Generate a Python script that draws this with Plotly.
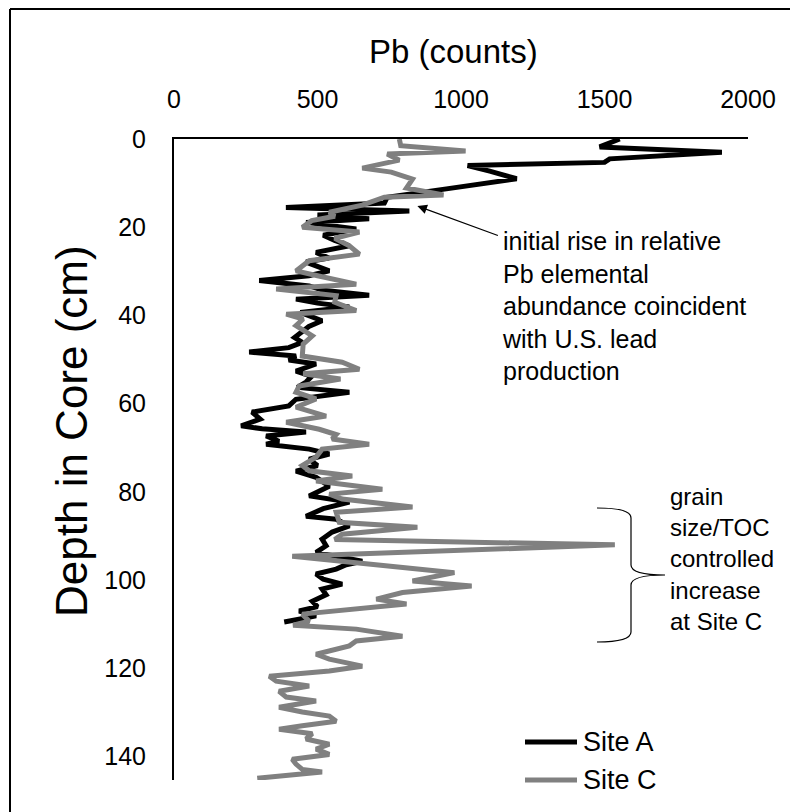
import plotly.graph_objects as go

# ---------------- data ----------------
site_a_depth = [0, 1.8, 3, 4.5, 5.3, 6, 7.3, 9, 11.3, 13.2, 14.5, 15.5, 16.3, 17.2, 18.1, 18.9,
                20.4, 21.8, 23, 24.2, 25.7, 27, 27.9, 29.9, 31, 32.1, 33.3, 34.3, 35.4, 36.3,
                37.2, 38.1, 39.3, 41.2, 42.5, 43.7, 45, 46.1, 47.3, 48.3, 49.2, 50.1, 51, 52.6,
                53.8, 55.1, 56.3, 57.4, 59, 60.5, 61.9, 63.5, 65, 65.7, 66.4, 67.3, 68.5, 69.2,
                70.3, 71.4, 72.6, 74, 75.3, 76.7, 78.7, 80.9, 82.3, 83.8, 85.5, 86.2, 87.7,
                89.1, 90.7, 92.2, 93.7, 95.7, 96.5, 97.5, 98.6, 99.8, 100.9, 102, 103.3, 104.8,
                106, 107, 108.1, 108.8, 109.5]
site_a_pb = [1553, 1483, 1909, 1518, 1500, 1023, 1100, 1194, 949, 743, 733, 390, 820, 500, 680, 460,
             635, 520, 560, 611, 495, 540, 460, 541, 470, 297, 471, 520, 680, 425,
             500, 611, 440, 516, 470, 447, 420, 447, 400, 262, 425, 400, 495, 425,
             480, 460, 430, 611, 425, 400, 272, 300, 234, 307, 460, 321, 366, 321,
             471, 541, 471, 500, 425, 495, 541, 471, 611, 520, 460, 565, 611,
             551, 516, 530, 495, 656, 600, 565, 495, 520, 586, 516, 530, 482,
             500, 436, 495, 440, 384]

site_c_depth = [0, 1.5, 2.7, 3.4, 4.8, 6.6, 7.5, 9.1, 11.1, 12.7, 13.2, 15, 16.6, 17.5, 18.5, 20,
                21.1, 22.5, 24.2, 26.1, 27.6, 29.9, 31, 32.9, 34, 35.5, 37, 38.9, 39.7, 40.8,
                42.3, 44.6, 46.5, 49.2, 50.6, 52.2, 53.2, 54.4, 56, 57.4, 58.9, 60.8, 62.8,
                64.2, 65.8, 67, 68, 69.2, 70.3, 72.1, 74, 75.2, 76.4, 77.5, 79.4, 80.5, 81.6,
                83.4, 84.6, 86.9, 88, 89.6, 90.8, 92, 94.6, 95.7, 98.3, 100.2, 101.3, 102.8,
                104.3, 105.4, 106.5, 107.7, 109.3, 110.2, 111.1, 112.7, 113.8, 114.9, 116.8,
                117.9, 119.5, 120.6, 121.8, 122.9, 124, 125.2, 126.5, 127.4, 128.8, 129.9,
                130.8, 132, 133, 133.8, 134.8, 136, 137.2, 138.3, 139.5, 140.6, 141.7, 142.9,
                143.5, 144.9]
site_c_pb = [785, 790, 1016, 743, 785, 656, 757, 831, 810, 939, 733, 656, 541, 560, 480, 447,
             646, 560, 611, 646, 471, 425, 500, 635, 356, 565, 560, 635, 391, 450,
             425, 482, 450, 447, 586, 646, 450, 580, 436, 425, 495, 425, 530,
             391, 506, 565, 551, 680, 516, 495, 447, 471, 621, 495, 726, 541, 586,
             831, 565, 576, 848, 586, 560, 1536, 412, 586, 977, 831, 1037, 796,
             705, 810, 635, 447, 471, 415, 635, 796, 635, 611, 495,
             541, 656, 541, 332, 356, 471, 366, 391, 495, 366, 447,
             541, 565, 447, 366, 482, 460, 541, 495, 541, 412, 425, 447,
             516, 290]

series_names = ["Site A", "Site C"]
series_colors = ["#000000", "#808080"]
x_ticks = [0, 500, 1000, 1500, 2000]
y_ticks = [0, 20, 40, 60, 80, 100, 120, 140]

# ---------------- layout helpers (page pixel -> paper) ----------------
OFF = 8                      # default page margin around the figure
W, H = 796, 804
L, T = 166, 131
R, B = W - 740, H - 772
PW, PH = W - L - R, H - T - B


def px(x):
    return (x - OFF - L) / PW


def py(y):
    return 1 - (y - OFF - T) / PH


FONT = "Liberation Sans, Arial, sans-serif"

fig = go.Figure()
for name, color, xs, ys in zip(series_names, series_colors,
                               [site_a_pb, site_c_pb], [site_a_depth, site_c_depth]):
    fig.add_trace(go.Scatter(x=xs, y=ys, mode="lines", name=name,
                             line=dict(color=color, width=5)))

fig.update_layout(
    width=W, height=H,
    margin=dict(l=L, r=R, t=T, b=B, autoexpand=False),
    paper_bgcolor="white", plot_bgcolor="white",
    font=dict(family=FONT, color="#000000"),
    showlegend=False,
    xaxis=dict(side="top", range=[0, 2000], tickvals=x_ticks, showgrid=False,
               zeroline=False, showline=True, linecolor="#000000", linewidth=2,
               ticks="", tickfont=dict(size=25, family=FONT), ticklabelstandoff=19,
               automargin=False),
    yaxis=dict(range=[145.3, 0], tickvals=y_ticks, showgrid=False, zeroline=False,
               showline=True, linecolor="#000000", linewidth=2, ticks="",
               tickfont=dict(size=25, family=FONT), ticklabelstandoff=21,
               automargin=False),
)

# axis titles
fig.add_annotation(text="Pb (counts)", xref="paper", yref="paper", x=px(453), y=py(52),
                   xanchor="center", yanchor="middle",
                   showarrow=False, font=dict(size=33, family=FONT))
fig.add_annotation(text="Depth in Core (cm)", xref="paper", yref="paper", x=px(71), y=py(431),
                   xanchor="center", yanchor="middle",
                   showarrow=False, textangle=-90, font=dict(size=44, family=FONT))

# legend (drawn at fixed pixel positions)
for i, (name, color) in enumerate(zip(series_names, series_colors)):
    ly = 742 + i * 38
    fig.add_shape(type="line", xref="paper", yref="paper", x0=px(525), x1=px(577),
                  y0=py(ly), y1=py(ly), line=dict(color=color, width=5))
    fig.add_annotation(text=name, xref="paper", yref="paper", x=px(581), y=py(ly),
                       xanchor="left", yanchor="middle", showarrow=False,
                       font=dict(size=27, family=FONT))

# arrow annotation
fig.add_annotation(x=848, y=15.2, xref="x", yref="y", ax=82, ay=30, text="",
                   showarrow=True, arrowhead=2, arrowsize=1.6, arrowwidth=1.2,
                   arrowcolor="#000000")
fig.add_annotation(text="initial rise in relative<br>Pb elemental<br>abundance coincident"
                        "<br>with U.S. lead<br>production",
                   xref="paper", yref="paper", x=px(500), y=py(306), xanchor="left",
                   yanchor="middle", align="left", showarrow=False,
                   font=dict(size=25, family=FONT))

# brace + text
brace = ("M {x0},{y0} Q {xv},{y0} {xv},{y1} L {xv},{y2} Q {xv},{ym} {xt},{ym} "
         "Q {xv},{ym} {xv},{y3} L {xv},{y4} Q {xv},{y5} {x0},{y5}")
bx0, bxv, bxt = px(597), px(631), px(665)
fig.add_shape(type="path", xref="paper", yref="paper",
              path=brace.format(x0=bx0, xv=bxv, xt=bxt, y0=py(508), y1=py(518), y2=py(565),
                                ym=py(575), y3=py(585), y4=py(632), y5=py(642)),
              line=dict(color="#000000", width=1.2))
fig.add_annotation(text="grain<br>size/TOC<br>controlled<br>increase<br>at Site C",
                   xref="paper", yref="paper", x=px(668), y=py(559), xanchor="left",
                   yanchor="middle", align="left", showarrow=False,
                   font=dict(size=24, family=FONT))

# outer frame (left + top)
fig.add_shape(type="line", xref="paper", yref="paper", x0=px(10), x1=px(10), y0=py(9), y1=py(830),
              line=dict(color="#000000", width=2))
fig.add_shape(type="line", xref="paper", yref="paper", x0=px(10), x1=px(790), y0=py(9), y1=py(9),
              line=dict(color="#000000", width=2))

fig.write_html("out.html")
